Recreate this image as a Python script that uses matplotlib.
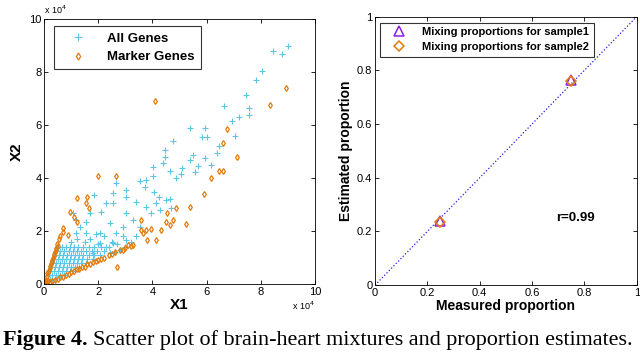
import numpy as np
import matplotlib.pyplot as plt

plt.rcParams['font.family'] = ['Liberation Sans', 'DejaVu Sans']

# ---- left panel data (units of 10^4) ----
all_x = [9.01, 8.46, 8.77, 8.03, 7.84, 7.47, 7.57, 7.57, 7.2, 6.65, 6.93, 7.04, 6.45, 6.39,
         5.93, 6.01, 5.84, 5.38, 4.76, 4.45, 4.45, 5.5, 5.38, 5.93, 6.18, 5.69, 5.56, 5.09,
         5.07, 4.88, 4.63, 4.39, 4.02, 4.02, 3.77, 3.53, 3.71, 4.04, 4.24, 4.14, 4.51, 4.66,
         4.7, 4.27, 3.96, 3.77, 3.4, 3.03, 3.03, 2.54, 2.66, 2.29, 2.54, 2.11, 1.84, 1.68,
         3.03, 3.28, 3.53, 2.91, 2.42, 2.05, 2.66, 3.03, 2.54, 2.05, 1.55, 1.31, 1.55, 1.18,
         1.06, 1.18, 1.8, 2.42,
         2.6, 2.8, 3.0, 2.3, 2.5, 2.0, 1.7, 2.7, 3.2, 3.4, 2.9, 2.2, 1.9, 1.5, 1.2, 1.0]
all_y = [8.97, 8.8, 8.68, 8.05, 7.71, 7.14, 6.64, 6.39, 6.32, 6.73, 6.17, 5.57, 5.19, 4.94,
         5.88, 5.53, 5.53, 5.88, 5.38, 5.06, 4.81, 4.87, 4.69, 4.75, 4.5, 4.47, 4.24, 4.37,
         4.16, 3.99, 4.28, 4.56, 4.4, 4.06, 3.93, 3.87, 3.68, 3.49, 3.3, 3.05, 3.17, 3.2,
         2.86, 2.8, 2.67, 2.92, 3.11, 3.3, 3.55, 3.43, 3.8, 3.05, 3.05, 2.7, 3.36, 2.67,
         2.67, 2.42, 2.17, 2.17, 2.29, 1.91, 1.91, 1.66, 1.54, 1.54, 1.91, 2.17, 2.36, 2.42,
         2.67, 1.91, 1.16, 1.16,
         1.2, 1.3, 1.4, 1.4, 1.6, 1.5, 1.7, 1.5, 1.6, 1.8, 1.8, 1.8, 1.9, 1.6, 1.7, 1.6]

# dense wedge of all genes near the origin
dense_x = [0.1, 0.2, 0.3, 0.4,
           0.15, 0.3, 0.45, 0.6, 0.75,
           0.2, 0.35, 0.5, 0.65, 0.8, 0.95, 1.05,
           0.25, 0.4, 0.55, 0.7, 0.85, 1.0, 1.15, 1.3,
           0.3, 0.45, 0.6, 0.75, 0.9, 1.05, 1.2, 1.35, 1.55,
           0.35, 0.5, 0.65, 0.8, 0.95, 1.1, 1.25, 1.4, 1.6, 1.8,
           0.4, 0.55, 0.7, 0.85, 1.0, 1.15, 1.3, 1.45, 1.65, 1.85, 2.05,
           0.45, 0.6, 0.75, 0.9, 1.05, 1.2, 1.35, 1.55, 1.75, 1.95, 2.2,
           0.5, 0.65, 0.8, 0.95, 1.1, 1.25, 1.45, 1.65, 1.85, 2.1, 2.4]
dense_y = [0.1, 0.2, 0.2, 0.2,
           0.35, 0.35, 0.35, 0.35, 0.35,
           0.5, 0.5, 0.5, 0.5, 0.5, 0.5, 0.5,
           0.65, 0.65, 0.65, 0.65, 0.65, 0.65, 0.65, 0.65,
           0.8, 0.8, 0.8, 0.8, 0.8, 0.8, 0.8, 0.8, 0.8,
           0.95, 0.95, 0.95, 0.95, 0.95, 0.95, 0.95, 0.95, 0.95, 0.95,
           1.1, 1.1, 1.1, 1.1, 1.1, 1.1, 1.1, 1.1, 1.1, 1.1, 1.1,
           1.25, 1.25, 1.25, 1.25, 1.25, 1.25, 1.25, 1.25, 1.25, 1.25, 1.25,
           1.4, 1.4, 1.4, 1.4, 1.4, 1.4, 1.4, 1.4, 1.4, 1.4, 1.4]

marker_x = [8.93, 8.36, 4.11, 6.77, 6.59, 7.14, 6.44, 6.61, 6.15, 5.9, 1.99, 2.64, 1.21, 1.58,
            1.55, 1.65, 0.94, 1.09, 1.21, 0.69, 0.69, 0.88, 5.38, 4.88, 4.54, 4.76, 4.66, 4.51,
            5.23, 4.3, 3.96, 3.77, 3.59, 3.65, 4.12, 3.81, 3.59, 3.28, 3.1, 2.68,
            0.2, 0.4, 0.6, 0.8, 1.0, 1.2, 1.4, 1.6, 1.8, 2.0, 2.2, 2.4, 2.6, 2.8, 3.0, 3.2,
            0.9, 1.3, 1.7, 2.1, 2.5, 2.9, 0.3, 0.5, 0.7, 1.1, 1.5, 1.9,
            0.05, 0.1, 0.15, 0.2, 0.25, 0.3, 0.35, 0.4, 0.45, 0.5, 0.12, 0.22, 0.32, 0.42,
            0.18, 0.28, 0.38, 0.48, 0.55, 0.6,
            0.05, 0.1, 0.03, 0.08, 0.15, 0.02]
marker_y = [7.39, 6.76, 6.89, 5.84, 5.31, 4.81, 4.28, 4.28, 3.99, 3.4, 4.06, 4.06, 3.24, 3.3,
            3.05, 2.86, 2.73, 2.54, 2.36, 2.1, 1.98, 1.85, 2.92, 2.86, 2.67, 2.42, 2.23, 2.36,
            2.27, 2.04, 2.07, 2.04, 2.04, 1.91, 1.66, 1.66, 2.42, 1.47, 1.47, 0.65,
            0.08, 0.17, 0.27, 0.36, 0.45, 0.55, 0.64, 0.74, 0.83, 0.92, 1.0, 1.1, 1.2, 1.28, 1.36, 1.45,
            0.38, 0.56, 0.76, 0.94, 1.12, 1.3, 0.1, 0.2, 0.28, 0.48, 0.66, 0.86,
            0.15, 0.3, 0.45, 0.6, 0.75, 0.9, 1.05, 1.2, 1.35, 1.45, 0.4, 0.7, 1.0, 1.3,
            0.5, 0.85, 1.15, 1.5, 1.7, 1.8,
            0.05, 0.05, 0.08, 0.12, 0.1, 0.02]

# ---- right panel data ----
measured = [0.25, 0.75]
est_sample1 = [0.24, 0.765]
est_sample2 = [0.235, 0.76]
diag = [0, 1]

cyan = '#5CC6E6'
orange = '#E27C0E'

fig = plt.figure(figsize=(6.4, 3.52), dpi=100)

ax1 = fig.add_axes([0.069, 0.193, 0.423, 0.753])
ax1.plot(all_x + dense_x, all_y + dense_y, '+', color=cyan, ms=4.5, mew=0.8, label='All Genes')
ax1.plot(marker_x, marker_y, 'd', mfc='none', mec=orange, ms=3, mew=0.9, label='Marker Genes')
ax1.set_xlim(0, 10)
ax1.set_ylim(0, 10)
ax1.set_xticks([0, 2, 4, 6, 8, 10])
ax1.set_yticks([0, 2, 4, 6, 8, 10])
ax1.tick_params(direction='in', top=True, right=True, labelsize=8, length=3, width=0.6, pad=2)
ax1.set_xlabel('X1', fontsize=11, fontweight='bold', labelpad=1)
ax1.set_ylabel('X2', fontsize=11, fontweight='bold', labelpad=4)
ax1.text(0.0, 1.01, 'x 10$^4$', transform=ax1.transAxes, fontsize=6.5, va='bottom', ha='left')
ax1.text(1.0, -0.06, 'x 10$^4$', transform=ax1.transAxes, fontsize=6.5, va='top', ha='right')
leg1 = ax1.legend(loc='upper left', bbox_to_anchor=(0.035, 0.972), borderaxespad=0,
                  prop={'weight': 'bold', 'size': 9.5}, fancybox=False, edgecolor='black',
                  handlelength=2.8, borderpad=0.45, labelspacing=0.5, markerscale=1.2)
leg1.get_frame().set_linewidth(0.8)
for s in ax1.spines.values():
    s.set_linewidth(0.6)

ax2 = fig.add_axes([0.586, 0.190, 0.409, 0.763])
ax2.plot(diag, diag, ':', color='#2020E0', lw=0.9)
ax2.plot(measured, est_sample1, '^', mfc='none', mec='#8A1EE6', ms=7.5, mew=1.1,
         label='Mixing proportions for sample1')
ax2.plot(measured, est_sample2, 'D', mfc='none', mec=orange, ms=5.5, mew=1.1,
         label='Mixing proportions for sample2')
ax2.set_xlim(0, 1)
ax2.set_ylim(0, 1)
ax2.set_xticks([0, 0.2, 0.4, 0.6, 0.8, 1])
ax2.set_yticks([0, 0.2, 0.4, 0.6, 0.8, 1])
ax2.set_xticklabels(['0', '0.2', '0.4', '0.6', '0.8', '1'])
ax2.set_yticklabels(['0', '0.2', '0.4', '0.6', '0.8', '1'])
ax2.tick_params(direction='in', top=True, right=True, labelsize=8, length=3, width=0.6, pad=2)
ax2.set_xlabel('Measured proportion', fontsize=10, fontweight='bold', labelpad=1)
ax2.set_ylabel('Estimated proportion', fontsize=10, fontweight='bold', labelpad=3)
ax2.text(0.69, 0.25, 'r=0.99', fontsize=9.5, fontweight='bold', va='center')
leg2 = ax2.legend(loc='upper left', bbox_to_anchor=(0.02, 0.977), borderaxespad=0,
                  prop={'weight': 'bold', 'size': 8}, fancybox=False, edgecolor='black',
                  handlelength=2.6, borderpad=0.4, labelspacing=0.45)
leg2.get_frame().set_linewidth(0.8)
for s in ax2.spines.values():
    s.set_linewidth(0.6)

# caption: bold "Figure 4." then regular text right after it
cap_y = 0.02
bold = fig.text(0.005, cap_y, 'Figure 4.', fontsize=15.9, family='Liberation Serif',
                fontweight='bold')
fig.canvas.draw()
bb = bold.get_window_extent()
x_next = (bb.x1 + 5) / fig.bbox.width
fig.text(x_next, cap_y, 'Scatter plot of brain-heart mixtures and proportion estimates.',
         fontsize=15.9, family='Liberation Serif')

fig.savefig('out.png', dpi=100)
